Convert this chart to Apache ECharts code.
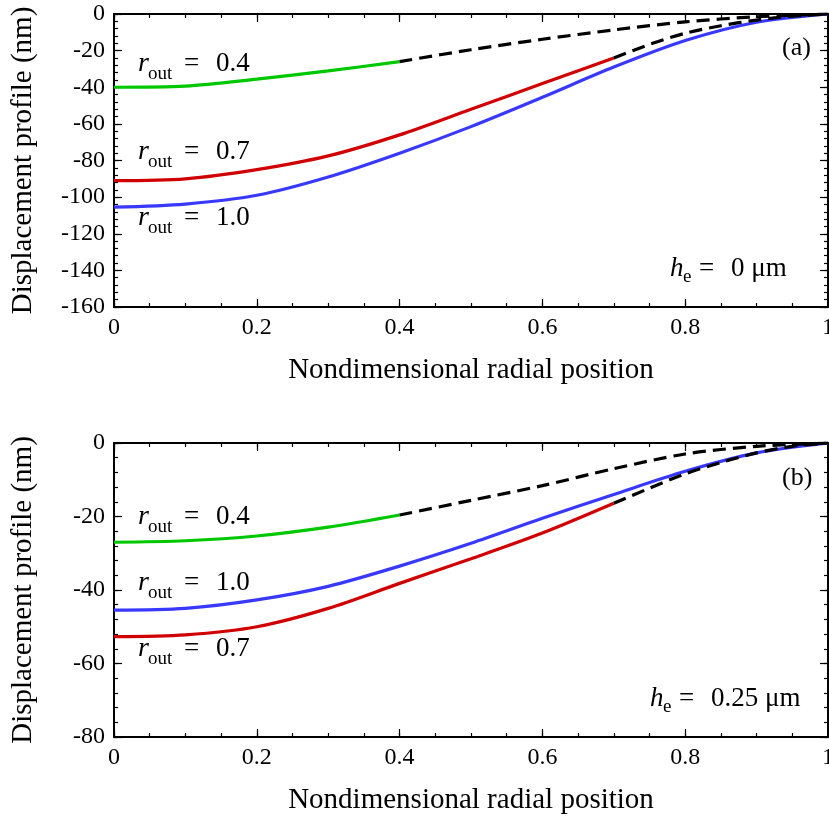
<!DOCTYPE html>
<html>
<head>
<meta charset="utf-8">
<script src="https://cdn.jsdelivr.net/npm/echarts@6/dist/echarts.min.js"></script>
<style>
  html, body { margin: 0; padding: 0; background: #fff; }
  #chart { width: 829px; height: 821px; }
</style>
</head>
<body>
<div id="chart"></div>
<script>
// ---- Panel (a): h_e = 0 um ----
const aX04 = [0, 0.1, 0.2, 0.3, 0.4];
const aSolid04 = [-40, -39.4, -35.6, -31.1, -26];
const aXTail04 = [0.4, 0.5, 0.6, 0.7, 0.8, 0.9, 1];
const aTail04 = [-26, -19.5, -13.8, -8.7, -4.3, -1.5, 0];

const aX07 = [0, 0.1, 0.2, 0.3, 0.4, 0.5, 0.6, 0.7];
const aSolid07 = [-91, -90, -85, -77.5, -66, -52, -38, -24];
const aXTail07 = [0.7, 0.75, 0.8, 0.85, 0.9, 0.95, 1];
const aTail07 = [-24, -16.6, -10.5, -6.4, -3.3, -1.2, 0];

const aX10 = [0, 0.1, 0.2, 0.3, 0.4, 0.5, 0.6, 0.7, 0.8, 0.9, 1];
const aSolid10 = [-105.5, -103.8, -99, -89, -76, -61.5, -45.5, -29, -14.5, -4.5, 0];

// ---- Panel (b): h_e = 0.25 um ----
const bX04 = [0, 0.1, 0.2, 0.3, 0.4];
const bSolid04 = [-27, -26.6, -25.3, -22.9, -19.6];
const bXTail04 = [0.4, 0.5, 0.6, 0.7, 0.8, 0.9, 1];
const bTail04 = [-19.6, -15.6, -11.6, -7.0, -3.0, -0.9, 0];

const bX07 = [0, 0.1, 0.2, 0.3, 0.4, 0.5, 0.6, 0.7];
const bSolid07 = [-52.7, -52.2, -50, -45, -38.2, -31.5, -24.5, -16.4];
const bXTail07 = [0.7, 0.75, 0.8, 0.85, 0.9, 0.95, 1];
const bTail07 = [-16.4, -12.3, -8.4, -5.3, -2.7, -0.9, 0];

const bX10 = [0, 0.1, 0.2, 0.3, 0.4, 0.5, 0.6, 0.7, 0.8, 0.9, 1];
const bSolid10 = [-45.5, -45, -42.7, -39, -33.5, -27.3, -20.5, -14, -7.7, -2.7, 0];

// ---- axis ranges ----
const xRange = [0, 1];
const xStep = 0.2;
const xMinorStep = 0.05;
const aYRange = [-160, 0];
const bYRange = [-80, 0];
const yStep = 20;
const yMinorStep = 4;

const GREEN = '#00c800';
const RED = '#d00000';
const BLUE = '#3838ff';
const SERIF = '"Liberation Serif", "Times New Roman", serif';

const gridRects = [
  { left: 114, top: 14, width: 714, height: 293, outerBoundsMode: 'none' },
  { left: 114, top: 443, width: 714, height: 294, outerBoundsMode: 'none' }
];

const pts = (xs, ys) => xs.map((x, i) => [x, ys[i]]);

function curve(xs, ys, color, dashed, gi) {
  return {
    type: 'line',
    xAxisIndex: gi * 2,
    yAxisIndex: gi * 2,
    data: pts(xs, ys),
    showSymbol: false,
    smooth: 0.3,
    z: dashed ? 4 : 3,
    lineStyle: {
      color: color,
      width: 3.2,
      type: dashed ? [13, 7] : 'solid',
      cap: 'butt'
    },
    emphasis: { disabled: true },
    silent: true
  };
}

// Axes of one grid: bottom/left carry labels on the major grids, top/right are bare mirrors
function xAxes(gi, step, tickLen, major) {
  const common = {
    type: 'value', gridIndex: gi, min: xRange[0], max: xRange[1], interval: step,
    splitLine: { show: false },
    axisLine: { show: major, onZero: false, lineStyle: { color: '#000', width: 2 } },
    axisTick: { show: true, inside: true, length: tickLen, lineStyle: { color: '#000', width: 1.2 } },
    axisLabel: { show: false }
  };
  const bottom = Object.assign({}, common, { position: 'bottom' });
  if (major) {
    Object.assign(bottom, {
      axisLabel: { show: true, margin: 9, color: '#000', fontFamily: SERIF, fontSize: 24 },
      name: 'Nondimensional radial position',
      nameLocation: 'middle', nameGap: 49,
      nameTextStyle: { color: '#000', fontFamily: SERIF, fontSize: 29 }
    });
  }
  return [bottom, Object.assign({}, common, { position: 'top' })];
}

function yAxes(gi, range, step, tickLen, major) {
  const common = {
    type: 'value', gridIndex: gi, min: range[0], max: range[1], interval: step,
    splitLine: { show: false },
    axisLine: { show: major, onZero: false, lineStyle: { color: '#000', width: 2 } },
    axisTick: { show: true, inside: true, length: tickLen, lineStyle: { color: '#000', width: 1.2 } },
    axisLabel: { show: false }
  };
  const left = Object.assign({}, common, { position: 'left' });
  if (major) {
    Object.assign(left, {
      axisLabel: { show: true, margin: 9, color: '#000', fontFamily: SERIF, fontSize: 24 },
      name: 'Displacement profile (nm)',
      nameLocation: 'middle', nameGap: 76,
      nameTextStyle: { color: '#000', fontFamily: SERIF, fontSize: 29 }
    });
  }
  return [left, Object.assign({}, common, { position: 'right' })];
}

// text placed by its alphabetic baseline
function txt(text, x, base, size, italic) {
  return {
    type: 'text', x: x, y: base - 0.33 * size, z: 100, silent: true,
    style: {
      text: text, fill: '#000',
      font: (italic ? 'italic ' : '') + size + 'px ' + SERIF,
      align: 'left', verticalAlign: 'middle'
    }
  };
}

function rLabel(x, base, value) {
  return [
    txt('r', x, base, 28, true),
    txt('out', x + 10, base + 7.5, 19, false),
    txt('=', x + 46, base, 27, false),
    txt(value, x + 78, base, 27, false)
  ];
}

function heLabel(x, base, value) {
  return [
    txt('h', x, base, 27, true),
    txt('e', x + 13, base + 5, 19, false),
    txt('=', x + 29, base, 27, false),
    txt(value, x + 61, base, 27, false)
  ];
}

const graphics = [].concat(
  rLabel(138, 73, '0.4'),
  rLabel(138, 161, '0.7'),
  rLabel(138, 227, '1.0'),
  heLabel(670, 278, '0 μm'),
  [txt('(a)', 782, 57, 26, false)],
  rLabel(138, 526, '0.4'),
  rLabel(138, 592, '1.0'),
  rLabel(138, 658, '0.7'),
  heLabel(650, 708, '0.25 μm'),
  [txt('(b)', 782, 487, 26, false)]
);

const chart = echarts.init(document.getElementById('chart'), null, { renderer: 'canvas' });
chart.setOption({
  backgroundColor: '#fff',
  animation: false,
  // grids 0/1 carry the data and major ticks; grids 2/3 overlay them for the minor ticks
  grid: [gridRects[0], gridRects[1], gridRects[0], gridRects[1]],
  xAxis: [].concat(
    xAxes(0, xStep, 8, true), xAxes(1, xStep, 8, true),
    xAxes(2, xMinorStep, 4, false), xAxes(3, xMinorStep, 4, false)
  ),
  yAxis: [].concat(
    yAxes(0, aYRange, yStep, 8, true), yAxes(1, bYRange, yStep, 8, true),
    yAxes(2, aYRange, yMinorStep, 4, false), yAxes(3, bYRange, yMinorStep, 4, false)
  ),
  series: [
    curve(aX04, aSolid04, GREEN, false, 0),
    curve(aX07, aSolid07, RED, false, 0),
    curve(aX10, aSolid10, BLUE, false, 0),
    curve(aXTail04, aTail04, '#000', true, 0),
    curve(aXTail07, aTail07, '#000', true, 0),
    curve(bX04, bSolid04, GREEN, false, 1),
    curve(bX07, bSolid07, RED, false, 1),
    curve(bX10, bSolid10, BLUE, false, 1),
    curve(bXTail04, bTail04, '#000', true, 1),
    curve(bXTail07, bTail07, '#000', true, 1)
  ],
  graphic: graphics
});
</script>
</body>
</html>
